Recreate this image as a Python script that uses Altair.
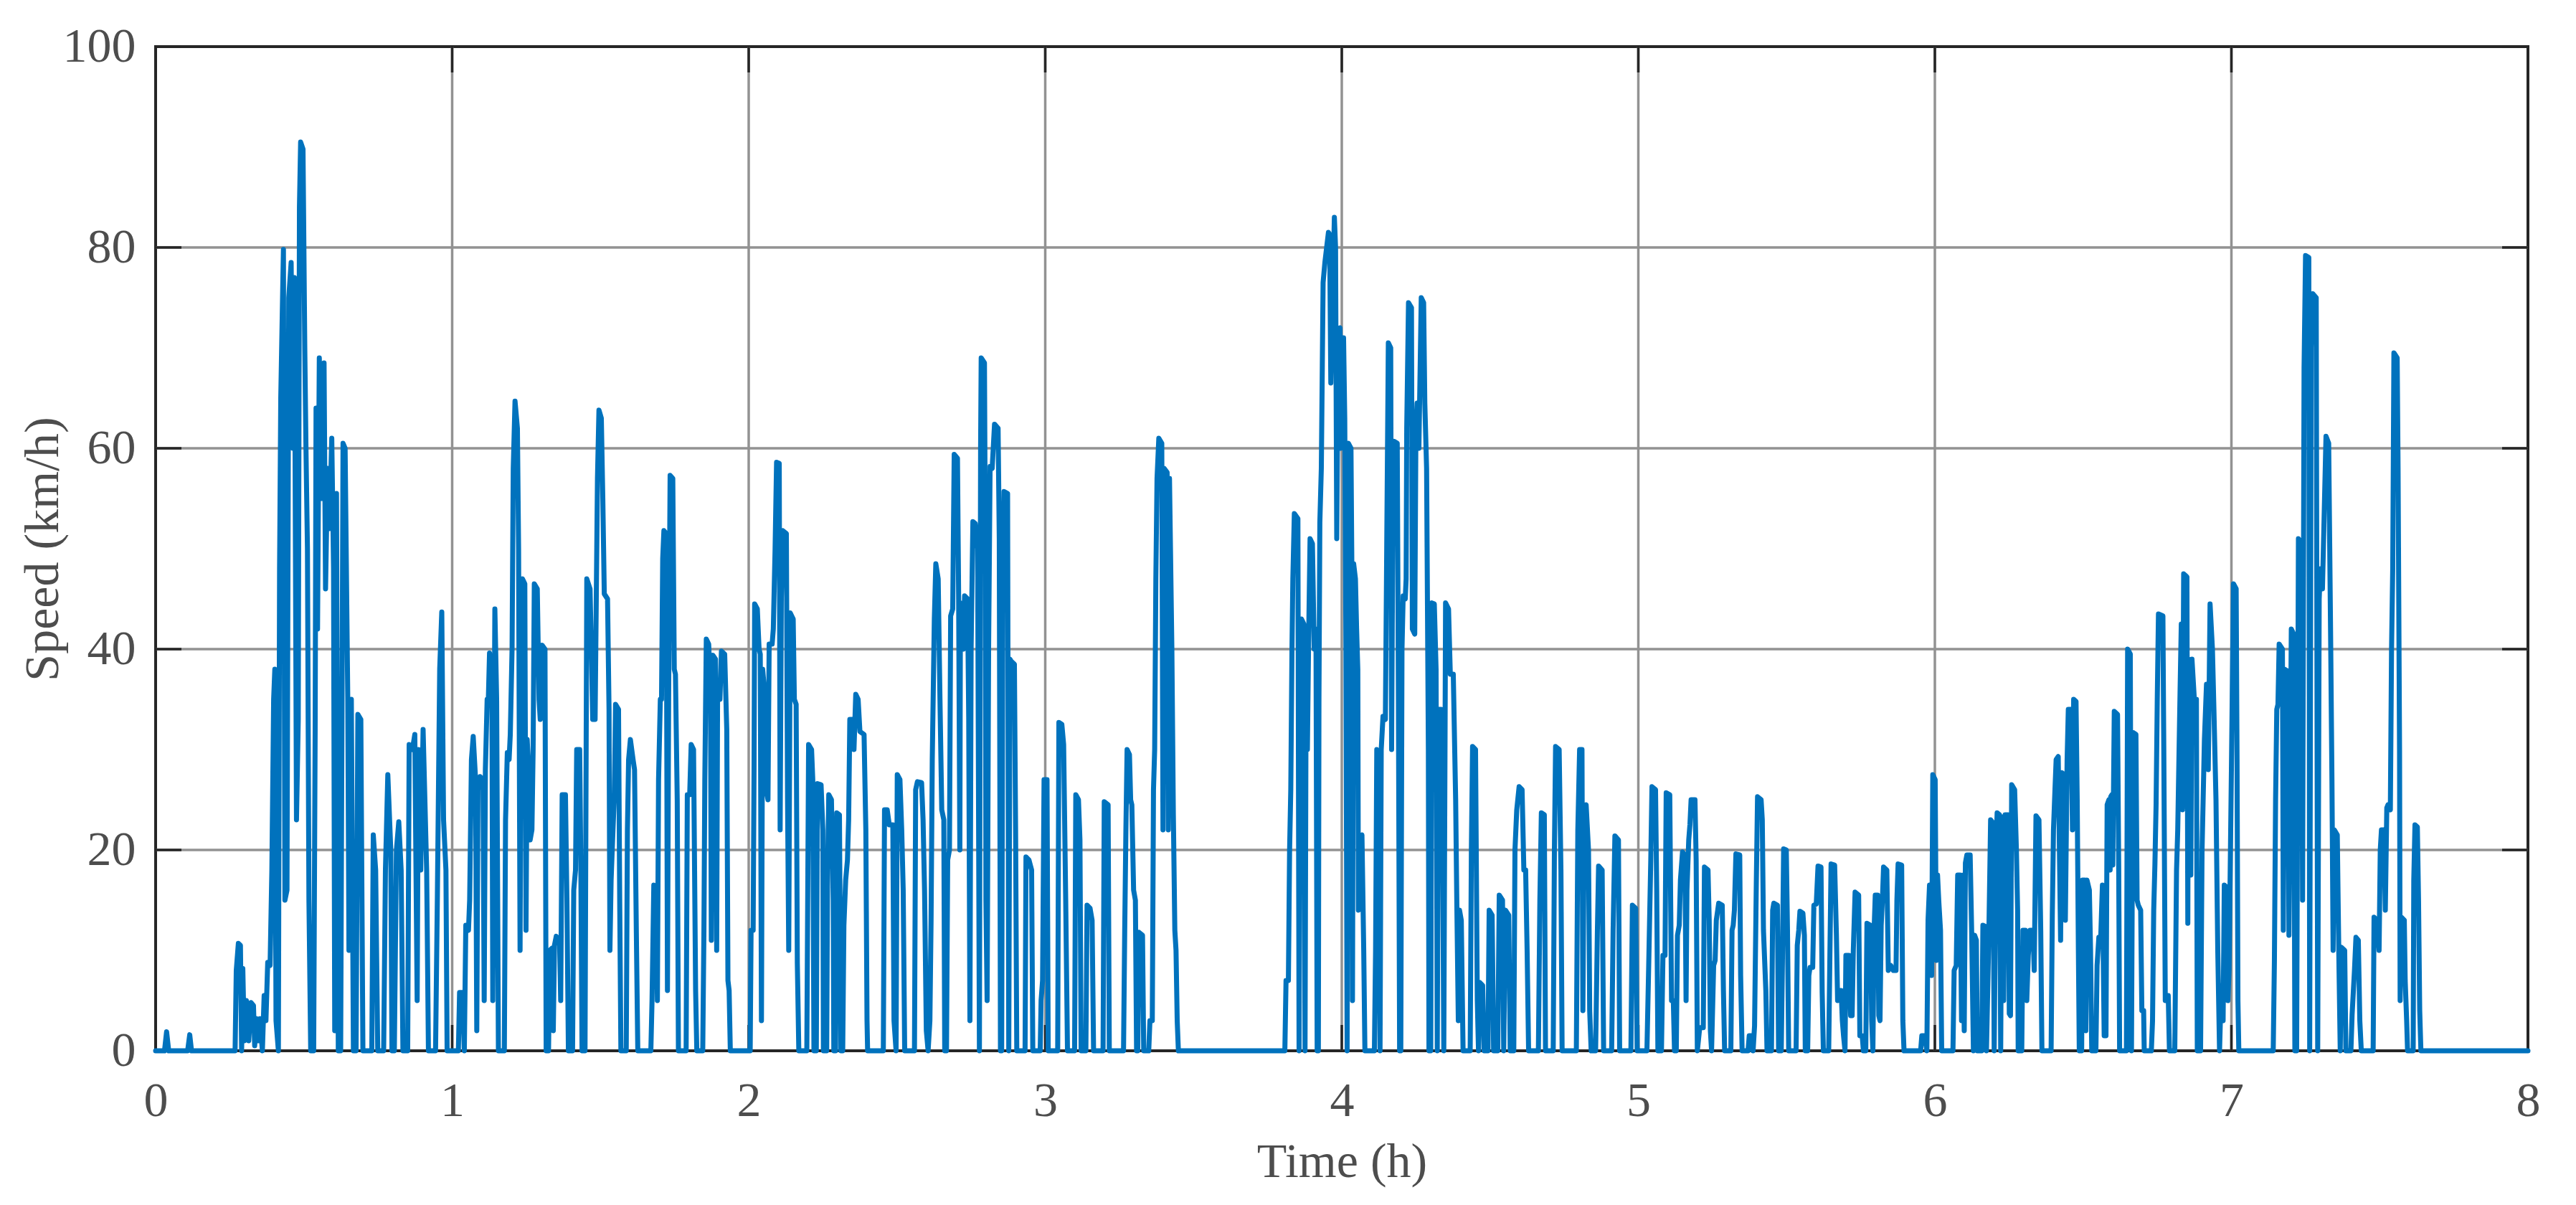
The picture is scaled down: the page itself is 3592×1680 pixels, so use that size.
import altair as alt
import pandas as pd

# ---- speed profile (time in h, speed in km/h), read segment by segment ----
SEG_0 = [(0, 0), (0.030, 0), (0.037, 1.9), (0.044, 0), (0.108, 0), (0.115, 1.6), (0.121, 0), (0.268, 0), (0.272, 8),
         (0.279, 10.7), (0.286, 10.5), (0.290, 0), (0.294, 8.2), (0.299, 1), (0.306, 5), (0.314, 1), (0.322, 4.8),
         (0.330, 4.5), (0.334, 0.5), (0.340, 3.2), (0.346, 1), (0.352, 3.2), (0.360, 0), (0.366, 5.5), (0.372, 3),
         (0.378, 8.8), (0.386, 8.5), (0.392, 18), (0.398, 35), (0.402, 38), (0.406, 3), (0.414, 0), (0.418, 48),
         (0.422, 65), (0.431, 79.8), (0.436, 15), (0.443, 16), (0.449, 75), (0.457, 78.5), (0.463, 60), (0.468, 77),
         (0.475, 23), (0.481, 33), (0.485, 84), (0.489, 90.5), (0.497, 89.8), (0.503, 70), (0.507, 60), (0.512, 50),
         (0.517, 15), (0.523, 0), (0.533, 0), (0.538, 32), (0.541, 64), (0.546, 42), (0.552, 69), (0.560, 55),
         (0.568, 68.5), (0.573, 46), (0.580, 58), (0.586, 52), (0.594, 61), (0.600, 48), (0.604, 2), (0.610, 55.5),
         (0.616, 0), (0.624, 0), (0.632, 60.5), (0.639, 60), (0.648, 35), (0.652, 10), (0.660, 35), (0.667, 0),
         (0.676, 0), (0.682, 33.5), (0.692, 33), (0.699, 0), (0.729, 0), (0.734, 21.5), (0.742, 18), (0.749, 0),
         (0.769, 0), (0.775, 18), (0.783, 27.5), (0.793, 20), (0.797, 0), (0.805, 0), (0.812, 20), (0.820, 22.8),
         (0.828, 18), (0.834, 0), (0.850, 0), (0.855, 30.5), (0.866, 30), (0.874, 31.5), (0.882, 5), (0.886, 30),
         (0.894, 18), (0.902, 32), (0.914, 18), (0.920, 0), (0.944, 0), (0.950, 15), (0.958, 38), (0.965, 43.7),
         (0.971, 23), (0.979, 18), (0.983, 0)]

SEG_1 = [(1.021, 0), (1.025, 5.8), (1.035, 5.8), (1.041, 0), (1.046, 12.5), (1.055, 12), (1.059, 15), (1.065, 29),
         (1.071, 31.3), (1.079, 27), (1.083, 2), (1.087, 26), (1.094, 27.3), (1.104, 27), (1.108, 5), (1.112, 28),
         (1.118, 35), (1.122, 35), (1.126, 39.6), (1.134, 37), (1.137, 5), (1.144, 44), (1.150, 35), (1.156, 0),
         (1.176, 0), (1.180, 23), (1.186, 29.7), (1.192, 29), (1.196, 31.5), (1.202, 40), (1.206, 58), (1.212, 64.7),
         (1.220, 62), (1.224, 50), (1.229, 10), (1.233, 40), (1.237, 47), (1.245, 46.5), (1.249, 12), (1.253, 31),
         (1.258, 28), (1.263, 21), (1.269, 22), (1.273, 30), (1.277, 46.5), (1.287, 46), (1.293, 35), (1.297, 33),
         (1.303, 40.4), (1.313, 40), (1.317, 0), (1.325, 0), (1.329, 10), (1.336, 10.2), (1.341, 2), (1.345, 10.5),
         (1.351, 11.4), (1.362, 11), (1.366, 5), (1.371, 25.5), (1.382, 25.5), (1.387, 15), (1.392, 0), (1.406, 0),
         (1.410, 16), (1.416, 18), (1.420, 30), (1.430, 30), (1.434, 18), (1.438, 0), (1.448, 0), (1.454, 47),
         (1.465, 46), (1.470, 39), (1.474, 33), (1.482, 33), (1.486, 45), (1.490, 57), (1.495, 63.8), (1.503, 63),
         (1.508, 55), (1.513, 45.5), (1.524, 45), (1.529, 34), (1.532, 10), (1.536, 17), (1.541, 21), (1.547, 25.5),
         (1.551, 34.5), (1.561, 34), (1.565, 15), (1.569, 0), (1.587, 0), (1.591, 22), (1.595, 29), (1.601, 31),
         (1.610, 29), (1.615, 28), (1.621, 12), (1.626, 0), (1.670, 0), (1.674, 5), (1.680, 16.5), (1.688, 16),
         (1.692, 5), (1.696, 27), (1.702, 35), (1.706, 35), (1.710, 49), (1.714, 51.8), (1.722, 51.5), (1.726, 6),
         (1.730, 35), (1.735, 57.3), (1.744, 57), (1.749, 38), (1.753, 37.5), (1.759, 25), (1.763, 0), (1.789, 0),
         (1.793, 25.5), (1.801, 25.5), (1.806, 30.5), (1.814, 30), (1.821, 6), (1.825, 0), (1.845, 0), (1.849, 12),
         (1.852, 27), (1.857, 41), (1.865, 40.5), (1.871, 36.5), (1.874, 11), (1.879, 39.4), (1.888, 39), (1.892, 10),
         (1.895, 35), (1.903, 35), (1.908, 39.8), (1.919, 39.5), (1.926, 32), (1.930, 7), (1.934, 6), (1.938, 0)]

SEG_2 = [(2.005, 0), (2.008, 12), (2.015, 12), (2.018, 28), (2.020, 44.5), (2.029, 44), (2.035, 40), (2.039, 39.5),
         (2.043, 3), (2.047, 38), (2.053, 36), (2.059, 26), (2.065, 25), (2.069, 40.5), (2.079, 40.5), (2.083, 42),
         (2.089, 50), (2.094, 58.6), (2.103, 58.5), (2.106, 22), (2.110, 45), (2.115, 51.8), (2.127, 51.5),
         (2.131, 25), (2.135, 10), (2.140, 43.6), (2.150, 43), (2.154, 35), (2.160, 34.5), (2.164, 8.7), (2.169, 0),
         (2.196, 0), (2.202, 30.5), (2.212, 30), (2.216, 27), (2.220, 0), (2.228, 0), (2.232, 26.6), (2.244, 26.5),
         (2.250, 22), (2.252, 0), (2.263, 0), (2.266, 18), (2.270, 25.5), (2.279, 25), (2.285, 15), (2.287, 0),
         (2.293, 0), (2.297, 23.7), (2.306, 23.5), (2.311, 0), (2.317, 0), (2.321, 12.5), (2.327, 17), (2.333, 19),
         (2.337, 23), (2.341, 33), (2.349, 33), (2.355, 30), (2.361, 35.5), (2.369, 35), (2.375, 31.8), (2.389, 31.5),
         (2.395, 22), (2.399, 3), (2.401, 0), (2.454, 0), (2.458, 24), (2.467, 24), (2.474, 22.5), (2.486, 22.5),
         (2.490, 3), (2.497, 0), (2.501, 27.5), (2.510, 27), (2.516, 22), (2.521, 16), (2.526, 0), (2.559, 0),
         (2.563, 26), (2.569, 26.8), (2.583, 26.7), (2.588, 23), (2.593, 16), (2.599, 2), (2.605, 0), (2.611, 3),
         (2.615, 13), (2.619, 29), (2.626, 43), (2.631, 48.5), (2.639, 47), (2.645, 35), (2.651, 24), (2.658, 23),
         (2.661, 0), (2.667, 0), (2.671, 19), (2.677, 20), (2.681, 43.3), (2.688, 44), (2.693, 59.4), (2.704, 59),
         (2.708, 45), (2.712, 20), (2.714, 44.6), (2.720, 44), (2.724, 40), (2.728, 45.3), (2.738, 45), (2.742, 33),
         (2.746, 3), (2.750, 40), (2.756, 52.7), (2.764, 52.5), (2.772, 50), (2.778, 0), (2.782, 60), (2.784, 69),
         (2.795, 68.5), (2.798, 50), (2.800, 15), (2.804, 5), (2.809, 40), (2.814, 58.2), (2.821, 58), (2.829, 62.4),
         (2.841, 62), (2.845, 51), (2.849, 0), (2.853, 0), (2.857, 45), (2.861, 55.7), (2.873, 55.5), (2.877, 0),
         (2.881, 39), (2.885, 38.8), (2.896, 38.5), (2.900, 22), (2.904, 0), (2.932, 0), (2.935, 19.3), (2.945, 19),
         (2.954, 18), (2.958, 0)]

SEG_3 = [(2.983, 0), (2.986, 5), (2.991, 7), (2.996, 27), (3.006, 27), (3.010, 0), (3.042, 0), (3.046, 32.7),
         (3.056, 32.5), (3.062, 30.5), (3.069, 15), (3.075, 0), (3.099, 0), (3.103, 25.5), (3.112, 25), (3.117, 21),
         (3.121, 0), (3.137, 0), (3.141, 14.5), (3.151, 14.2), (3.158, 13), (3.163, 0), (3.195, 0), (3.199, 24.8),
         (3.212, 24.5), (3.216, 0), (3.264, 0), (3.268, 12), (3.272, 22), (3.276, 30), (3.284, 29.5), (3.288, 25),
         (3.292, 24.5), (3.298, 16), (3.304, 15), (3.308, 0), (3.312, 0), (3.316, 11.8), (3.328, 11.5), (3.332, 0),
         (3.349, 0), (3.353, 3), (3.361, 3), (3.365, 26), (3.369, 30), (3.373, 47), (3.377, 57), (3.383, 61),
         (3.393, 60.5), (3.397, 22), (3.401, 58), (3.411, 57.6), (3.415, 22), (3.419, 57), (3.427, 40), (3.432, 23.5),
         (3.437, 12), (3.441, 10), (3.445, 3), (3.449, 0), (3.808, 0), (3.812, 7), (3.820, 7), (3.824, 20),
         (3.828, 26), (3.832, 40), (3.835, 47), (3.840, 53.5), (3.852, 53), (3.856, 0), (3.860, 40), (3.864, 43),
         (3.872, 42.5), (3.876, 0), (3.880, 40), (3.884, 30), (3.888, 40.5), (3.893, 51), (3.901, 50.5), (3.907, 40),
         (3.913, 42), (3.917, 0), (3.921, 0), (3.923, 35), (3.926, 52.6), (3.931, 58)]

SEG_4 = [(3.937, 76.5), (3.943, 78.5), (3.949, 80), (3.955, 81.5), (3.959, 81.3), (3.963, 66.5), (3.969, 75),
         (3.975, 83), (3.979, 80), (3.983, 51), (3.988, 71.3), (3.994, 72), (3.996, 60), (4.000, 71), (4.006, 71),
         (4.010, 63), (4.014, 40), (4.018, 0), (4.022, 60.5), (4.031, 60), (4.034, 48), (4.036, 5), (4.040, 48.5),
         (4.046, 47), (4.050, 42), (4.054, 38), (4.056, 14), (4.060, 20.5), (4.068, 21.5), (4.074, 10), (4.078, 0),
         (4.110, 0), (4.114, 10), (4.118, 30), (4.125, 29.5), (4.129, 0), (4.133, 30), (4.139, 33.3), (4.147, 33),
         (4.151, 48), (4.157, 70.5), (4.165, 70), (4.168, 30), (4.173, 58), (4.176, 60.7), (4.187, 60.5), (4.191, 35),
         (4.195, 0), (4.199, 0), (4.203, 40), (4.207, 45.3), (4.214, 45), (4.217, 47), (4.219, 62), (4.225, 74.5),
         (4.235, 74), (4.238, 42), (4.246, 41.5), (4.250, 62), (4.254, 64.5), (4.260, 60), (4.264, 67.5), (4.268, 75),
         (4.276, 74.5), (4.280, 64.5), (4.286, 58), (4.292, 30), (4.294, 0), (4.300, 0), (4.304, 44.6), (4.312, 44.5),
         (4.318, 38), (4.322, 0), (4.326, 34), (4.335, 34), (4.340, 22), (4.344, 0), (4.350, 44.6), (4.360, 44),
         (4.366, 37.5), (4.376, 37.5), (4.384, 25), (4.388, 14.5), (4.393, 3), (4.397, 14), (4.403, 13), (4.409, 0),
         (4.433, 0), (4.437, 20), (4.441, 30.3), (4.451, 30), (4.457, 5), (4.461, 0), (4.465, 6.8), (4.475, 6.5),
         (4.480, 0), (4.493, 0), (4.497, 14), (4.507, 13.5), (4.512, 0), (4.526, 0), (4.531, 15.5), (4.542, 15),
         (4.546, 0), (4.552, 14), (4.563, 13.5), (4.568, 0), (4.580, 0), (4.584, 20), (4.590, 24), (4.598, 26.3),
         (4.608, 26), (4.614, 18), (4.620, 18), (4.625, 10), (4.630, 0), (4.663, 0), (4.668, 15), (4.673, 23.7),
         (4.683, 23.5), (4.687, 0), (4.713, 0), (4.717, 20), (4.721, 30.3), (4.733, 30), (4.739, 18), (4.743, 0),
         (4.791, 0), (4.796, 22), (4.802, 30), (4.810, 30), (4.813, 4), (4.818, 24), (4.824, 24.5), (4.832, 20),
         (4.836, 4), (4.841, 0), (4.856, 0), (4.862, 12), (4.866, 18.4), (4.878, 18), (4.883, 0), (4.910, 0),
         (4.915, 12), (4.921, 21.4), (4.933, 21), (4.937, 0)]

SEG_5 = [(4.975, 0), (4.980, 14.5), (4.991, 14.2), (4.996, 0), (5.029, 0), (5.035, 8.5), (5.042, 19), (5.046, 26.3),
         (5.058, 26), (5.062, 16), (5.066, 0), (5.078, 0), (5.083, 9.5), (5.090, 9.5), (5.094, 25.7), (5.106, 25.5),
         (5.112, 5), (5.118, 5), (5.122, 0), (5.128, 0), (5.132, 11.5), (5.138, 12.5), (5.142, 17), (5.149, 19.8),
         (5.157, 19.5), (5.161, 5), (5.164, 16), (5.170, 21), (5.174, 22.5), (5.178, 25), (5.191, 25), (5.195, 19),
         (5.199, 0), (5.207, 2.3), (5.219, 2.3), (5.223, 18.3), (5.235, 18), (5.239, 13), (5.243, 2), (5.247, 0),
         (5.254, 8.5), (5.259, 9), (5.263, 13), (5.271, 14.7), (5.283, 14.5), (5.287, 6), (5.291, 0), (5.312, 0),
         (5.316, 12), (5.320, 12.5), (5.324, 14), (5.329, 19.6), (5.342, 19.5), (5.345, 7.5), (5.350, 0), (5.370, 0),
         (5.374, 1.5), (5.383, 1.5), (5.387, 0), (5.392, 2.5), (5.398, 17), (5.402, 25.3), (5.414, 25), (5.418, 23),
         (5.422, 12), (5.426, 9), (5.430, 6), (5.434, 0), (5.449, 0), (5.453, 14), (5.457, 14.7), (5.469, 14.5),
         (5.473, 0), (5.482, 0), (5.486, 9), (5.490, 20.1), (5.499, 20), (5.503, 12), (5.507, 0), (5.532, 0),
         (5.536, 10.5), (5.541, 12), (5.545, 13.9), (5.555, 13.7), (5.560, 11.5), (5.563, 0), (5.571, 0),
         (5.575, 7.5), (5.579, 8.3), (5.588, 8.3), (5.592, 14.5), (5.600, 14.6), (5.606, 18.4), (5.616, 18.3),
         (5.620, 5.8), (5.624, 0), (5.642, 0), (5.646, 9.5), (5.650, 18.6), (5.662, 18.5), (5.668, 11.5), (5.672, 5),
         (5.676, 6), (5.684, 6), (5.688, 3), (5.692, 1.5), (5.697, 0), (5.700, 9.5), (5.710, 9.5), (5.716, 3.5),
         (5.721, 3.5), (5.725, 10), (5.731, 15.8), (5.743, 15.5), (5.747, 1.5), (5.755, 1.5), (5.759, 0), (5.767, 0),
         (5.771, 12.7), (5.783, 12.5), (5.787, 3), (5.791, 0), (5.795, 12), (5.799, 15.5), (5.807, 15.5),
         (5.811, 3.5), (5.815, 3), (5.819, 12.5), (5.823, 15), (5.827, 18.3), (5.838, 18), (5.843, 8), (5.851, 8.5),
         (5.860, 8), (5.869, 8), (5.872, 15), (5.876, 18.6), (5.888, 18.5), (5.892, 3), (5.896, 0)]

SEG_6 = [(5.952, 0), (5.956, 1.5), (5.966, 1.5), (5.973, 0), (5.977, 13), (5.982, 16.5), (5.989, 7.5), (5.993, 27.5),
         (6.001, 27), (6.005, 9), (6.009, 17.5), (6.013, 15), (6.019, 12), (6.023, 0), (6.061, 0), (6.065, 8),
         (6.072, 8.5), (6.077, 17.5), (6.085, 17.5), (6.090, 3), (6.095, 17.5), (6.099, 2), (6.103, 18.7),
         (6.108, 19.5), (6.119, 19.5), (6.124, 12), (6.130, 0), (6.134, 11.5), (6.140, 11), (6.143, 0), (6.158, 0),
         (6.162, 12.5), (6.170, 12.4), (6.174, 0), (6.182, 11.5), (6.188, 23), (6.196, 22.7), (6.200, 0), (6.206, 20),
         (6.210, 23.7), (6.218, 23.5), (6.222, 0), (6.226, 23.3), (6.232, 5), (6.237, 23.5), (6.247, 23.5),
         (6.251, 3.7), (6.255, 3.5), (6.259, 26.5), (6.269, 26), (6.275, 20), (6.279, 14), (6.281, 0), (6.293, 0),
         (6.297, 12), (6.305, 12), (6.310, 5), (6.315, 9.5), (6.321, 12), (6.331, 12), (6.335, 8), (6.341, 23.4),
         (6.351, 23), (6.357, 12), (6.361, 0), (6.392, 0), (6.396, 13.5), (6.400, 22), (6.405, 26), (6.409, 29),
         (6.416, 29.3), (6.424, 11), (6.428, 27.7), (6.436, 27.5), (6.440, 13), (6.446, 29), (6.450, 34), (6.459, 34),
         (6.464, 22), (6.468, 35), (6.476, 34.8), (6.480, 25), (6.484, 10), (6.487, 0), (6.495, 0), (6.498, 17),
         (6.505, 17), (6.509, 2), (6.513, 17), (6.521, 16), (6.525, 10), (6.529, 0), (6.543, 0), (6.547, 8.5),
         (6.553, 11.3), (6.559, 11), (6.565, 16.5), (6.571, 1.5), (6.577, 1.5), (6.581, 24.5), (6.587, 25),
         (6.591, 18), (6.593, 25.3), (6.597, 25.5), (6.600, 18.5), (6.605, 33.8), (6.616, 33.5), (6.620, 18),
         (6.623, 0), (6.646, 0), (6.650, 40), (6.659, 39.5), (6.663, 0), (6.668, 31.7), (6.678, 31.5), (6.682, 15),
         (6.686, 14.5), (6.694, 14), (6.698, 4), (6.704, 4), (6.706, 0), (6.730, 0), (6.734, 3), (6.738, 14),
         (6.742, 18.5), (6.746, 24.5), (6.750, 35), (6.754, 43.5), (6.769, 43.3), (6.772, 30), (6.777, 5),
         (6.780, 5.5), (6.787, 5.5), (6.791, 0), (6.809, 0), (6.815, 18), (6.819, 22), (6.823, 29), (6.827, 36),
         (6.831, 42.5), (6.835, 24), (6.839, 47.5), (6.850, 47.2), (6.853, 12.7), (6.855, 39), (6.859, 38),
         (6.863, 17.5), (6.867, 39), (6.875, 35), (6.882, 35), (6.885, 0), (6.896, 0)]

SEG_7 = [(6.901, 20), (6.909, 31), (6.916, 36.5), (6.922, 28), (6.928, 44.5), (6.936, 40), (6.941, 34), (6.948, 25),
         (6.954, 10), (6.960, 0), (6.966, 6.5), (6.972, 3), (6.976, 16.5), (6.984, 16.3), (6.988, 5), (6.992, 8),
         (6.996, 18), (7.000, 28), (7.007, 46.5), (7.016, 46), (7.019, 29), (7.022, 5), (7.025, 0), (7.141, 0),
         (7.145, 9), (7.149, 25), (7.153, 34), (7.157, 34.5), (7.161, 40.5), (7.172, 40), (7.175, 12), (7.179, 38),
         (7.190, 37.8), (7.194, 11.5), (7.198, 26), (7.202, 42), (7.210, 41.5), (7.214, 0), (7.220, 0), (7.226, 51),
         (7.236, 50.5), (7.240, 15), (7.245, 68), (7.250, 79.2), (7.261, 79), (7.264, 0), (7.269, 70), (7.274, 75.4),
         (7.286, 75), (7.291, 0), (7.296, 45), (7.300, 48), (7.307, 46), (7.319, 61.2), (7.328, 60.5), (7.335, 40),
         (7.339, 27), (7.343, 10), (7.347, 22), (7.357, 21.5), (7.363, 8), (7.367, 0), (7.371, 10.3), (7.382, 10),
         (7.386, 0), (7.403, 0), (7.407, 3.6), (7.415, 8), (7.420, 11.3), (7.428, 11), (7.433, 3), (7.438, 0),
         (7.478, 0), (7.481, 13.3), (7.492, 13), (7.498, 10), (7.502, 20), (7.506, 22), (7.514, 22), (7.519, 14),
         (7.524, 24.2), (7.528, 24.5), (7.536, 24), (7.540, 40), (7.544, 48), (7.548, 69.5), (7.559, 69), (7.562, 58),
         (7.567, 30), (7.569, 5), (7.573, 13.3), (7.583, 13), (7.586, 7), (7.591, 3), (7.594, 0), (7.613, 0),
         (7.615, 17), (7.619, 22.5), (7.627, 22.3), (7.631, 15), (7.635, 4), (7.639, 0), (8.0, 0)]

TIME_TICKS = [0, 1, 2, 3, 4, 5, 6, 7, 8]
SPEED_TICKS = [0, 20, 40, 60, 80, 100]

# ---- build tables ----
points = SEG_0 + SEG_1 + SEG_2 + SEG_3 + SEG_4 + SEG_5 + SEG_6 + SEG_7
df = pd.DataFrame(points, columns=["t", "v"])
df["i"] = range(len(df))
xt = pd.DataFrame({"t": TIME_TICKS})
yt = pd.DataFrame({"v": SPEED_TICKS})
xg = pd.DataFrame({"t": TIME_TICKS[1:-1]})
yg = pd.DataFrame({"v": SPEED_TICKS[1:-1]})

W, H = 3308, 1400
FONT = "Liberation Serif"
TXT = "#4d4d4d"
DARK = "#262626"
GRID = "#929292"
TICK_LEN = 36

xscale = alt.Scale(domain=[0, 8], nice=False, zero=False)
yscale = alt.Scale(domain=[0, 100], nice=False, zero=False)

x_axis = alt.Axis(values=TIME_TICKS, format="d", title="Time (h)", grid=False, ticks=False, domain=False,
                  labelFont=FONT, labelFontSize=68, labelColor=TXT, labelPadding=70, labelBaseline="middle",
                  labelFlush=False,
                  titleFont=FONT, titleFontSize=68, titleColor=TXT, titleFontWeight="normal",
                  titleX=W / 2, titleY=175, titleBaseline="alphabetic", titleAlign="center")
y_axis = alt.Axis(values=SPEED_TICKS, format="d", title="Speed (km/h)", grid=False, ticks=False, domain=False,
                  labelFont=FONT, labelFontSize=68, labelColor=TXT, labelPadding=28, labelBaseline="middle",
                  labelAlign="right", labelFlush=False,
                  titleFont=FONT, titleFontSize=68, titleColor=TXT, titleFontWeight="normal",
                  titleAngle=270, titleX=-137, titleY=H / 2, titleBaseline="alphabetic", titleAlign="center")

X = alt.X("t:Q", scale=xscale, axis=x_axis)
Y = alt.Y("v:Q", scale=yscale, axis=y_axis)

vgrid = alt.Chart(xg).mark_rule(color=GRID, strokeWidth=3.5).encode(x=X)
hgrid = alt.Chart(yg).mark_rule(color=GRID, strokeWidth=3.5).encode(y=Y)

xtick_bot = alt.Chart(xt).mark_rule(color=DARK, strokeWidth=3.5).encode(
    x=X, y=alt.value(H), y2=alt.value(H - TICK_LEN))
xtick_top = alt.Chart(xt).mark_rule(color=DARK, strokeWidth=3.5).encode(
    x=X, y=alt.value(0), y2=alt.value(TICK_LEN))
ytick_left = alt.Chart(yt).mark_rule(color=DARK, strokeWidth=3.5).encode(
    y=Y, x=alt.value(0), x2=alt.value(TICK_LEN))
ytick_right = alt.Chart(yt).mark_rule(color=DARK, strokeWidth=3.5).encode(
    y=Y, x=alt.value(W - TICK_LEN), x2=alt.value(W))

line = alt.Chart(df).mark_line(color="#0072BD", strokeWidth=7, strokeJoin="round", strokeCap="round").encode(
    x=X, y=Y, order="i:Q")

chart = alt.layer(vgrid, hgrid, xtick_bot, xtick_top, ytick_left, ytick_right, line).properties(
    width=W, height=H,
    autosize=alt.AutoSizeParams(type="none"),
    padding={"left": 209, "top": 57, "right": 59, "bottom": 200},
    background="white",
).configure_view(stroke=DARK, strokeWidth=4)

chart.save("out.html", embed_options={"renderer": "svg", "actions": False})
